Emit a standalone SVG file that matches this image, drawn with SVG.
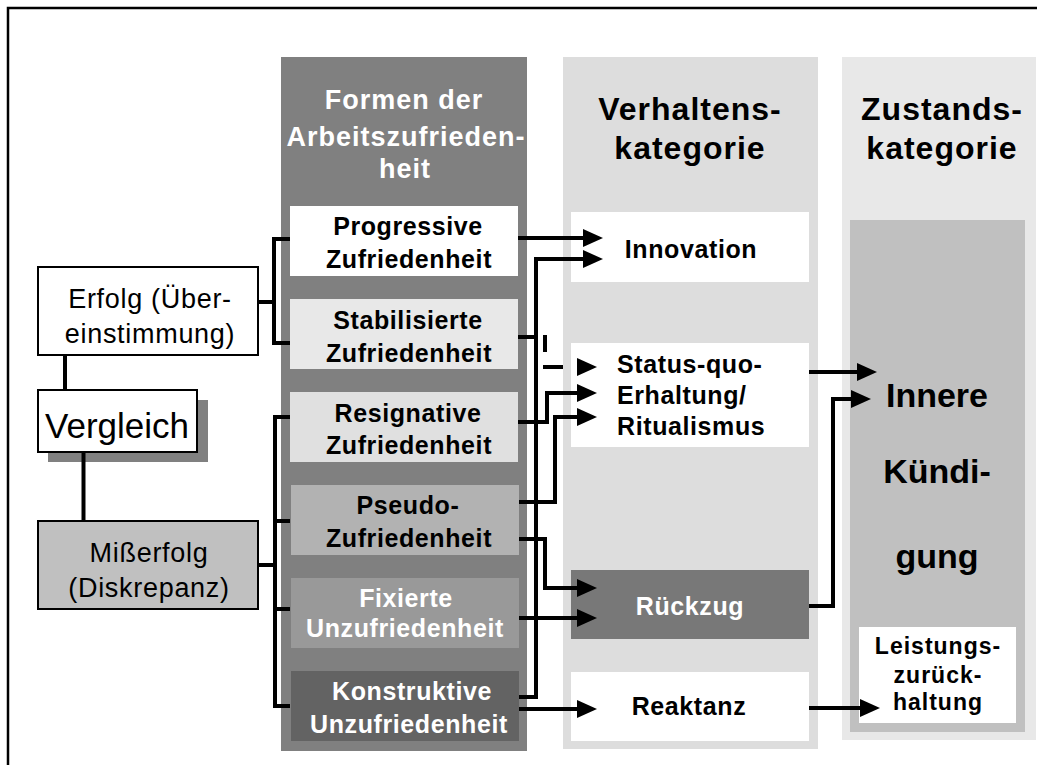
<svg xmlns="http://www.w3.org/2000/svg" width="1037" height="765" viewBox="0 0 1037 765">
<defs>
<style>
text{font-family:"Liberation Sans",Arial,sans-serif}
.h1{font-size:27px;font-weight:bold;fill:#fff;letter-spacing:1px;text-anchor:middle}
.h2{font-size:32px;font-weight:bold;fill:#000;letter-spacing:1px;text-anchor:middle}
.bx{font-size:25px;font-weight:bold;fill:#000;letter-spacing:0.6px;text-anchor:middle}
.w{fill:#fff}
.rg{font-size:27px;fill:#000;letter-spacing:0.7px;text-anchor:middle}
.big{font-size:34px;font-weight:bold;fill:#000;text-anchor:middle}
.sm{font-size:23px;font-weight:bold;fill:#000;letter-spacing:1px;text-anchor:middle}
.ln{fill:none;stroke:#000;stroke-width:4;stroke-linejoin:miter}
.ar{marker-end:url(#arr)}
.ol{stroke:#000;stroke-width:2}
</style>
<marker id="arr" markerUnits="userSpaceOnUse" markerWidth="20" markerHeight="18" refX="10" refY="9" orient="auto" viewBox="0 0 20 18">
<path d="M0,0 L20,9 L0,18 Z" fill="#000"/>
</marker>
</defs>

<rect x="8" y="8" width="1050" height="780" fill="#fff" stroke="#000" stroke-width="2.5"/>

<g id="col-formen">
<rect x="281" y="57" width="246" height="694" fill="#808080"/>
<text class="h1" x="404" y="109">Formen der</text>
<text class="h1" x="406" y="146">Arbeitszufrieden-</text>
<text class="h1" x="405" y="178">heit</text>
</g>
<g id="col-verhalten">
<rect x="563" y="57" width="255" height="692" fill="#dddddd"/>
<text class="h2" x="690" y="120">Verhaltens-</text>
<text class="h2" x="690" y="159">kategorie</text>
</g>
<g id="col-zustand">
<rect x="842" y="57" width="194" height="683" fill="#e8e8e8"/>
<text class="h2" x="942" y="120">Zustands-</text>
<text class="h2" x="942" y="159">kategorie</text>
</g>

<g id="erfolg">
<rect class="ol" x="38" y="267" width="220" height="88" fill="#fff"/>
<text class="rg" x="150" y="308">Erfolg (Über-</text>
<text class="rg" x="150" y="343">einstimmung)</text>
</g>
<g id="vergleich">
<rect x="48" y="400" width="160" height="62" fill="#808080"/>
<rect class="ol" x="38" y="390" width="159" height="62" fill="#fff"/>
<text x="117" y="438" style="font-size:35px;text-anchor:middle;fill:#000">Vergleich</text>
</g>
<g id="misserfolg">
<rect class="ol" x="38" y="521" width="220" height="88" fill="#c0c0c0"/>
<text class="rg" x="149" y="562">Mißerfolg</text>
<text class="rg" x="149" y="597">(Diskrepanz)</text>
</g>

<g id="progressive">
<rect x="290" y="206" width="228" height="70" fill="#ffffff"/>
<text class="bx" x="408" y="235">Progressive</text>
<text class="bx" x="409" y="268">Zufriedenheit</text>
</g>
<g id="stabilisierte">
<rect x="290" y="299" width="228" height="70" fill="#e8e8e8"/>
<text class="bx" x="408" y="329">Stabilisierte</text>
<text class="bx" x="409" y="362">Zufriedenheit</text>
</g>
<g id="resignative">
<rect x="290" y="392" width="228" height="70" fill="#e0e0e0"/>
<text class="bx" x="408" y="422">Resignative</text>
<text class="bx" x="409" y="454">Zufriedenheit</text>
</g>
<g id="pseudo">
<rect x="291" y="485" width="228" height="70" fill="#b2b2b2"/>
<text class="bx" x="408" y="514">Pseudo-</text>
<text class="bx" x="409" y="547">Zufriedenheit</text>
</g>
<g id="fixierte">
<rect x="291" y="578" width="228" height="70" fill="#999999"/>
<text class="bx w" x="406" y="607">Fixierte</text>
<text class="bx w" x="405" y="637">Unzufriedenheit</text>
</g>
<g id="konstruktive">
<rect x="291" y="671" width="228" height="70" fill="#636363"/>
<text class="bx w" x="412" y="700">Konstruktive</text>
<text class="bx w" x="409" y="733">Unzufriedenheit</text>
</g>

<g id="innovation">
<rect x="571" y="212" width="238" height="70" fill="#fff"/>
<text class="bx" x="691" y="258">Innovation</text>
</g>
<g id="statusquo">
<rect x="571" y="343" width="238" height="104" fill="#fff"/>
<text class="bx" x="617" y="373" style="text-anchor:start">Status-quo-</text>
<text class="bx" x="617" y="404" style="text-anchor:start">Erhaltung/</text>
<text class="bx" x="617" y="435" style="text-anchor:start">Ritualismus</text>
</g>
<g id="rueckzug">
<rect x="571" y="570" width="238" height="69" fill="#787878"/>
<text class="bx w" x="690" y="615">Rückzug</text>
</g>
<g id="reaktanz">
<rect x="571" y="672" width="238" height="69" fill="#fff"/>
<text class="bx" x="689" y="715">Reaktanz</text>
</g>

<g id="innere-kuendigung">
<rect x="850" y="220" width="175" height="512" fill="#c0c0c0"/>
<text class="big" x="937" y="407">Innere</text>
<text class="big" x="937" y="483">Kündi-</text>
<text class="big" x="937" y="568">gung</text>
</g>
<g id="leistung">
<rect x="859" y="627" width="157" height="96" fill="#fff"/>
<text class="sm" x="938" y="654">Leistungs-</text>
<text class="sm" x="938" y="683">zurück-</text>
<text class="sm" x="938" y="710">haltung</text>
</g>

<g id="connectors">
<path class="ln" d="M65,355 V390"/>
<path class="ln" d="M83.5,452 V521"/>
<path class="ln" d="M258,302 H274"/>
<path class="ln" d="M290,239 H274 V343 H290"/>
<path class="ln" d="M258,565 H275"/>
<path class="ln" d="M290,417 H275 V706 H290"/>
<path class="ln" d="M275,521 H290"/>
<path class="ln" d="M275,609 H290"/>
<path class="ln ar" d="M518,238 H593"/>
<path class="ln ar" d="M519,697 H536 V259 H593"/>
<path class="ln" d="M518,337 H537"/>
<path class="ln" d="M545,335 V352"/>
<path class="ln" d="M543,367 H563"/>
<path class="ln ar" d="M580,367 H587"/>
<path class="ln ar" d="M518,422 H547 V393 H587"/>
<path class="ln ar" d="M519,502 H555 V417 H587"/>
<path class="ln ar" d="M519,539 H545 V588 H587"/>
<path class="ln ar" d="M519,618 H587"/>
<path class="ln ar" d="M519,709 H587"/>
<path class="ln ar" d="M809,372 H867"/>
<path class="ln ar" d="M809,606 H833 V399 H861"/>
<path class="ln ar" d="M809,708 H870"/>
</g>
</svg>
